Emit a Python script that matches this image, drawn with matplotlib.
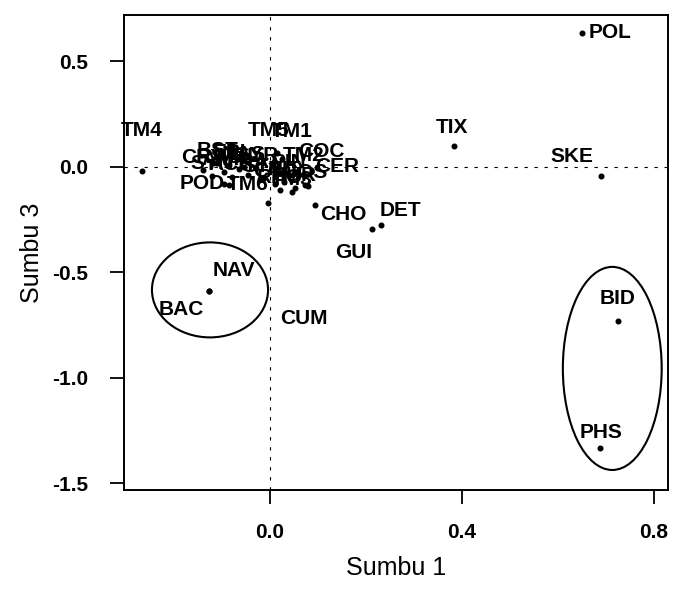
import numpy as np
import matplotlib.pyplot as plt
from matplotlib.patches import Ellipse

plt.rcParams['font.family'] = ['Liberation Sans', 'DejaVu Sans']
plt.rcParams['axes.unicode_minus'] = False

# ordination scores (axis 1 vs axis 3)
labels = ['POL', 'TIX', 'SKE', 'BID', 'PHS', 'DET', 'GUI', 'NAV', 'BAC', 'CUM',
          'TM4', 'POD', 'TM6', 'TM5', 'TM1', 'TM2', 'COC', 'CER', 'TM3', 'CHO',
          'CRY', 'BST', 'AMP', 'MEL', 'SYN', 'FRA', 'ACH', 'GYR', 'EPI',
          'NIT', 'SUR', 'RHO', 'COS', 'PIN', 'CYC', 'NAS', 'STA']
sumbu1 = [0.650, 0.383, 0.690, 0.725, 0.688, 0.232, 0.212, -0.127, -0.127, -0.004,
          -0.267, -0.096, -0.085, 0.014, 0.026, 0.050, 0.070, 0.080, 0.045, 0.094,
          -0.140, -0.110, -0.095, -0.065, -0.120, -0.045, -0.080, -0.030, -0.085,
          0.030, 0.052, 0.020, 0.072, 0.040, 0.010, -0.055, -0.015]
sumbu3 = [0.635, 0.100, -0.043, -0.730, -1.330, -0.275, -0.295, -0.588, -0.588, -0.171,
          -0.019, -0.080, -0.085, 0.066, 0.035, -0.030, -0.040, -0.090, -0.120, -0.180,
          -0.015, 0.020, -0.025, -0.010, -0.045, -0.040, -0.050, -0.005, 0.010,
          -0.070, -0.100, -0.110, -0.085, -0.040, -0.080, 0.000, -0.060]

# label offsets in points relative to each point
offsets = {
    'POL': (5, 0, 'left'), 'TIX': (-1, 13, 'center'), 'SKE': (-21, 14, 'center'),
    'BID': (0, 16, 'center'), 'PHS': (1, 11, 'center'), 'DET': (14, 10, 'center'),
    'GUI': (-13, -17, 'center'), 'NAV': (18, 15, 'center'), 'BAC': (-20, -13, 'center'),
    'CUM': (26, -83, 'center'), 'TM4': (0, 29, 'center'), 'POD': (-16, 0, 'center'),
    'TM6': (13, 0, 'center'), 'TM5': (-6, 16, 'center'), 'TM1': (7, 20, 'center'),
    'TM2': (7, 13, 'center'), 'COC': (13, 17, 'center'), 'CER': (21, 14, 'center'),
    'CHO': (20, -7, 'center'),
}

fig = plt.figure(figsize=(6.82, 5.93), dpi=100)
ax = fig.add_axes([0.182, 0.174, 0.797, 0.801])

ax.axhline(0, color='black', lw=0.8, ls=(0, (3, 6)))
ax.axvline(0, color='black', lw=0.8, ls=(0, (3, 6)))

ax.scatter(sumbu1, sumbu3, s=11, color='black', zorder=3)

for name, x, y in zip(labels, sumbu1, sumbu3):
    dx, dy, ha = offsets.get(name, (0, 9, 'center'))
    ax.annotate(name, (x, y), xytext=(dx, dy), textcoords='offset points',
                ha=ha, va='center', fontsize=15, fontweight='bold', color='black')

# groups circled by hand
ax.add_patch(Ellipse((-0.125, -0.583), 0.242, 0.45, fill=False, lw=1.5, color='black'))
ax.add_patch(Ellipse((0.7135, -0.955), 0.206, 0.962, fill=False, lw=1.5, color='black'))

ax.set_xlim(-0.304, 0.829)
ax.set_ylim(-1.53, 0.72)
ax.set_xticks([0.0, 0.4, 0.8])
ax.set_yticks([0.5, 0.0, -0.5, -1.0, -1.5])
ax.tick_params(direction='out', length=10, width=1.3, labelsize=15)
ax.tick_params(axis='y', pad=16)
ax.tick_params(axis='x', pad=14)
for lab in ax.get_xticklabels() + ax.get_yticklabels():
    lab.set_fontweight('bold')
for sp in ax.spines.values():
    sp.set_linewidth(1.4)

ax.set_xlabel('Sumbu 1', fontsize=18, labelpad=10)
ax.set_ylabel('Sumbu 3', fontsize=18, labelpad=6)

fig.savefig('out.png', dpi=100)
